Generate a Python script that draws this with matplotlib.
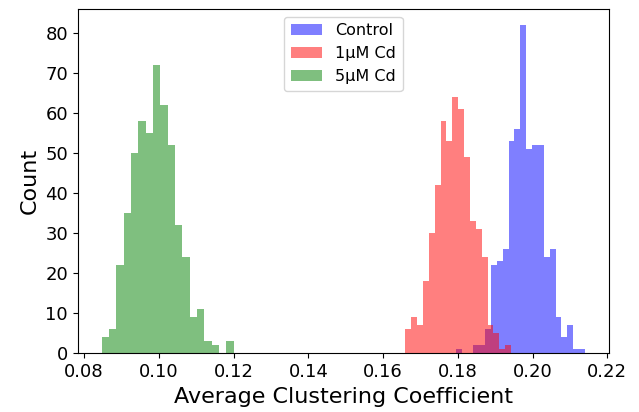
import numpy as np
import matplotlib
matplotlib.use("Agg")
import matplotlib.pyplot as plt

# Histogram counts
control_counts = [1, 0, 0, 2, 2, 6, 22, 23, 26, 53, 56, 82, 51, 52, 52, 24, 26, 9, 4, 7, 1, 1]
control_range = (0.17945, 0.21397)

cd1_counts = [6, 9, 7, 18, 30, 42, 58, 53, 64, 61, 49, 33, 31, 24, 7, 5, 1, 2]
cd1_range = (0.16590, 0.19426)

cd5_counts = [4, 6, 22, 35, 50, 58, 55, 72, 62, 52, 32, 24, 9, 11, 3, 2, 0, 3]
cd5_range = (0.08473, 0.11997)

labels = ["Control", "1\u03bcM Cd", "5\u03bcM Cd"]
colors = ["blue", "red", "green"]

fig = plt.figure(figsize=(6.39, 4.12), dpi=100)
ax = fig.add_axes([0.1216, 0.1425, 0.8314, 0.8355])

for counts, rng, lab, col in zip([control_counts, cd1_counts, cd5_counts],
                                 [control_range, cd1_range, cd5_range],
                                 labels, colors):
    counts = np.asarray(counts, dtype=float)
    edges = np.linspace(rng[0], rng[1], len(counts) + 1)
    centers = 0.5 * (edges[:-1] + edges[1:])
    ax.hist(centers, bins=edges, weights=counts, color=col, alpha=0.5, label=lab)

ax.set_xlabel("Average Clustering Coefficient", fontsize=16)
ax.set_ylabel("Count", fontsize=16)
ax.tick_params(labelsize=13)
ax.set_xticks(np.arange(0.08, 0.221, 0.02))
ax.legend(loc="upper center", fontsize=11.5)

fig.savefig("out.png", dpi=100)
